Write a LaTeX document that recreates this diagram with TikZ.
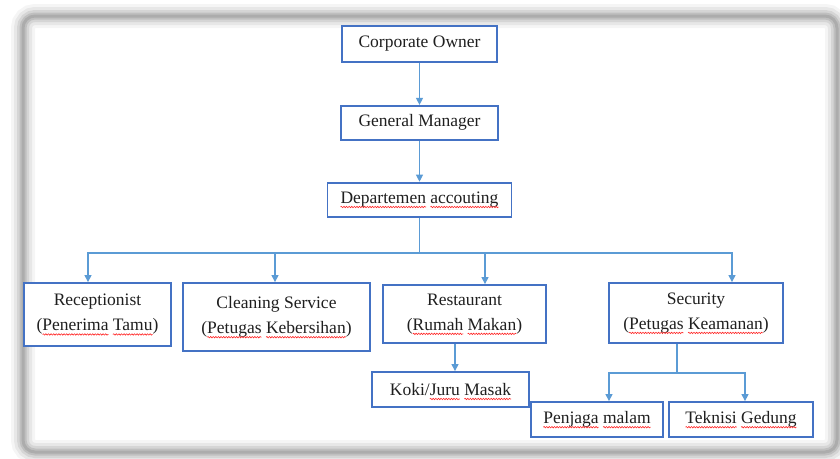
\documentclass[tikz,border=0pt]{standalone}
\usepackage{fontspec}
\setmainfont{Liberation Serif}
\usetikzlibrary{arrows.meta,positioning,decorations.pathmorphing}
\definecolor{boxblue}{HTML}{4472C4}
\definecolor{lineblue}{HTML}{5B9BD5}
\newcommand\spl[1]{\begin{tikzpicture}[baseline=(w.base), x=1pt, y=1pt]
    \node[inner sep=0pt, outer sep=0pt, minimum size=0pt, draw=none, fill=none, text=black!88] (w) {#1};
    \draw[overlay, red!85, line width=0.6pt, decorate, decoration={snake, amplitude=0.7pt, segment length=2.6pt}]
      ([yshift=-3.5pt]w.base west) -- ([yshift=-3.5pt]w.base east);
  \end{tikzpicture}}

\begin{document}
\begin{tikzpicture}[x=1pt, y=-1pt,
      unit/.style={draw=boxblue, line width=1.8pt, fill=white, minimum height=34pt,
        align=center, inner sep=0pt, text=black!88,
        font=\fontsize{17.5}{25}\selectfont},
      arrow/.style={-{Triangle[length=7pt,width=7pt]}, line width=1.1pt, draw=lineblue},
      link/.style={line width=1.1pt, draw=lineblue}
    ]
      \useasboundingbox (0,0) rectangle (840,458);
      % shadowed frame
      \foreach \w/\o in {24/0.04, 18/0.06, 12/0.08, 7/0.1, 3/0.1}
        \draw[line width=\w pt, black, opacity=\o, rounded corners=12pt] (23,16) rectangle (837,452);

      \node[unit, minimum width=155pt, minimum height=36pt] (owner) at (419.5,44) {Corporate Owner};
      \node[unit, minimum width=157pt, below=42pt of owner] (gm) {General Manager};
      \node[unit, minimum width=184pt, below=41pt of gm] (dept) {\spl{Departemen} \spl{accouting}};

      \node[unit, minimum width=147pt, minimum height=63pt] (recep) at (97.5,314.5) {Receptionist\\(\spl{Penerima} \spl{Tamu})};
      \node[unit, minimum width=187pt, minimum height=68pt] (clean) at (276.5,317) {Cleaning Service\\(\spl{Petugas} \spl{Kebersihan})};
      \node[unit, minimum width=163pt, minimum height=58pt] (resto) at (464.5,314) {Restaurant\\(\spl{Rumah} \spl{Makan})};
      \node[unit, minimum width=174pt, minimum height=60pt] (secur) at (696,313) {Security\\(\spl{Petugas} \spl{Keamanan})};

      \node[unit, minimum width=157pt, minimum height=35pt] (koki) at (450.5,389.5) {Koki/\spl{Juru} \spl{Masak}};
      \node[unit, minimum width=132pt, minimum height=35pt] (jaga) at (597,419.5) {\spl{Penjaga} \spl{malam}};
      \node[unit, minimum width=144pt, minimum height=35pt] (teknisi) at (741,419.5) {\spl{Teknisi} \spl{Gedung}};

      \coordinate (bus) at (dept.south |- 0,253);
      \coordinate (fork) at (677,373);

      \draw[arrow] (owner) -- (gm);
      \draw[arrow] (gm) -- (dept);
      \draw[link] (dept) -- (bus);
      \draw[arrow] (bus) -| ([xshift=-9.5pt]recep.north);
      \draw[arrow] (bus) -| ([xshift=-1.5pt]clean.north);
      \draw[arrow] (bus) -| ([xshift=20.5pt]resto.north);
      \draw[arrow] (bus) -| ([xshift=36pt]secur.north);
      \draw[arrow] ([xshift=-9.5pt]resto.south) -- ([xshift=4.5pt]koki.north);
      \draw[link] ([xshift=-19pt]secur.south) -- (fork);
      \draw[arrow] (fork) -| ([xshift=12pt]jaga.north);
      \draw[arrow] (fork) -| ([xshift=4pt]teknisi.north);
    \end{tikzpicture}
\end{document}
